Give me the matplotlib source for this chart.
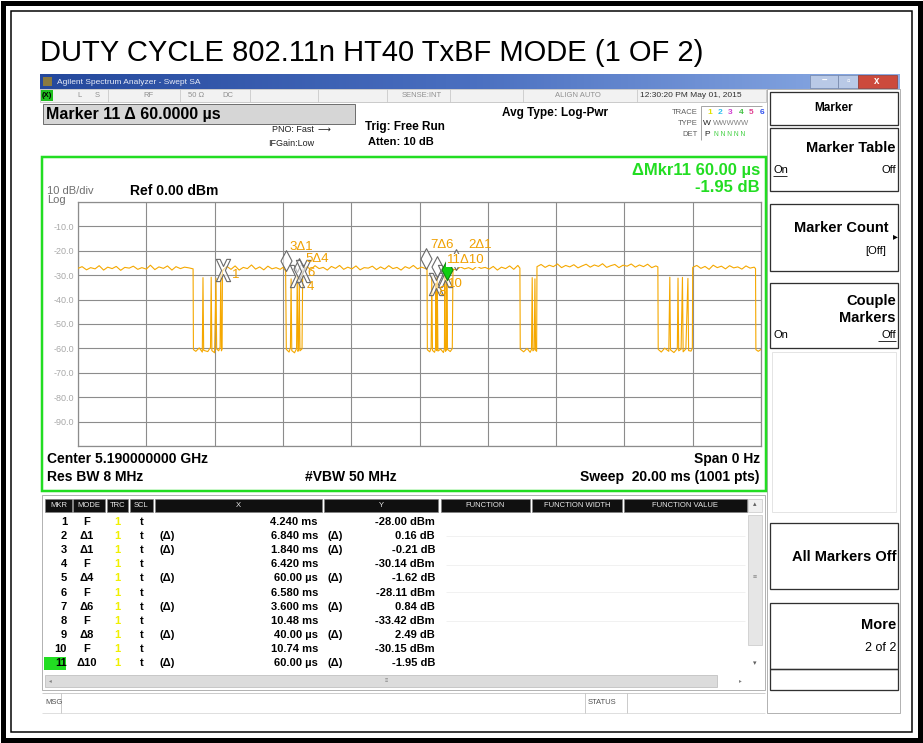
import numpy as np
import matplotlib
matplotlib.use('Agg')
import matplotlib.pyplot as plt
from matplotlib.patches import Rectangle
from matplotlib.path import Path
from matplotlib.colors import LinearSegmentedColormap

plt.rcParams['font.family'] = ['Liberation Sans', 'DejaVu Sans']

# zero-span trace, 20 ms sweep, vertices (ms, dBm)
trace_pts = [
    (0.00, -27.2), (0.12, -26.5), (0.25, -27.8), (0.37, -26.9), (0.50, -27.4), (0.62, -26.1),
    (0.75, -27.9), (0.87, -26.7), (1.00, -27.3), (1.12, -26.4), (1.25, -28.0), (1.37, -26.8),
    (1.50, -27.1), (1.62, -26.3), (1.75, -27.6), (1.87, -26.9), (2.00, -27.5), (2.12, -25.9),
    (2.25, -27.7), (2.37, -26.6), (2.50, -27.2), (2.62, -26.2), (2.75, -27.9), (2.87, -26.5),
    (3.00, -27.3), (3.12, -26.7), (3.25, -27.0), (3.37, -27.4),
    (3.38, -60.5), (3.45, -61.2), (3.55, -59.8), (3.64, -61.5), (3.66, -31.0), (3.68, -60.8),
    (3.80, -61.3), (3.88, -59.6), (3.90, -30.8), (3.92, -60.9), (4.00, -61.8), (4.04, -31.2),
    (4.06, -60.2), (4.12, -61.0), (4.16, -59.5), (4.18, -29.5), (4.20, -61.0), (4.22, -60.3),
    (4.23, -28.6),
    (4.24, -28.0), (4.36, -26.4), (4.48, -27.6), (4.60, -26.2), (4.72, -27.9), (4.84, -26.8),
    (4.96, -27.3), (5.08, -25.8), (5.20, -27.5), (5.32, -26.6), (5.44, -27.8), (5.56, -26.3),
    (5.68, -27.4), (5.80, -26.9), (5.92, -27.6), (6.00, -26.8), (6.08, -28.2),
    (6.10, -60.4), (6.18, -61.5), (6.22, -59.7), (6.24, -31.5), (6.26, -60.9), (6.34, -61.8),
    (6.40, -60.1), (6.42, -30.1), (6.44, -61.2), (6.46, -60.6), (6.48, -31.8), (6.50, -61.0),
    (6.56, -60.2), (6.58, -28.1),
    (6.70, -26.5), (6.82, -27.7), (6.94, -26.1), (7.06, -27.3), (7.18, -26.8), (7.30, -27.9),
    (7.42, -26.4), (7.54, -27.2), (7.66, -26.0), (7.78, -27.6), (7.90, -26.7), (8.02, -27.4),
    (8.14, -26.2), (8.26, -27.8), (8.38, -26.9), (8.50, -27.1), (8.62, -26.3), (8.74, -27.7),
    (8.86, -26.6), (8.98, -27.5), (9.10, -26.1), (9.22, -27.3), (9.34, -26.8), (9.46, -27.9),
    (9.58, -26.5), (9.70, -27.2), (9.82, -26.0), (9.94, -27.4), (10.06, -26.7), (10.18, -27.3),
    (10.22, -27.0),
    (10.23, -60.6), (10.30, -61.4), (10.34, -59.9), (10.36, -30.5), (10.38, -60.8), (10.44, -61.6),
    (10.47, -60.2), (10.48, -33.4), (10.50, -60.9), (10.51, -60.5), (10.52, -30.9), (10.54, -61.1),
    (10.62, -60.3), (10.70, -61.7), (10.73, -60.0), (10.74, -30.2), (10.76, -61.2), (10.79, -60.7),
    (10.80, -32.1), (10.82, -60.4), (10.90, -61.3), (10.96, -60.1), (10.98, -27.5),
    (11.08, -27.8), (11.20, -26.6), (11.32, -27.4), (11.44, -26.9), (11.56, -27.7), (11.68, -26.3),
    (11.80, -27.2), (11.92, -26.8), (12.04, -27.5), (12.16, -26.4), (12.28, -27.9), (12.40, -26.7),
    (12.52, -27.3), (12.64, -26.2), (12.76, -27.6), (12.88, -26.0), (12.94, -27.1),
    (12.95, -60.3), (13.05, -61.4), (13.15, -60.0), (13.24, -61.6), (13.28, -60.4), (13.30, -31.0),
    (13.32, -61.0), (13.36, -60.5), (13.38, -31.5), (13.40, -60.8), (13.43, -61.2), (13.44, -26.5),
    (13.56, -25.6), (13.68, -26.8), (13.80, -25.9), (13.92, -26.5), (14.04, -25.4), (14.16, -26.9),
    (14.28, -26.0), (14.40, -26.6), (14.52, -25.7), (14.64, -27.0), (14.76, -26.2), (14.88, -25.5),
    (15.00, -26.7), (15.12, -25.8), (15.24, -26.4), (15.36, -25.3), (15.48, -26.8), (15.60, -26.1),
    (15.72, -25.6), (15.84, -26.9), (15.96, -25.9), (16.08, -26.3), (16.20, -25.4), (16.32, -26.7),
    (16.44, -25.8), (16.56, -26.5), (16.68, -25.5), (16.80, -26.9), (16.92, -26.2), (16.98, -26.6),
    (16.99, -60.4), (17.08, -61.5), (17.18, -59.9), (17.30, -61.2), (17.33, -30.8), (17.35, -60.6),
    (17.45, -61.7), (17.55, -60.1), (17.57, -31.2), (17.59, -61.0), (17.66, -60.3), (17.70, -30.9),
    (17.72, -61.4), (17.80, -60.2), (17.86, -31.3), (17.88, -60.9), (17.95, -61.1), (17.99, -60.0),
    (18.00, -26.8),
    (18.12, -26.0), (18.24, -27.2), (18.36, -26.4), (18.48, -27.6), (18.60, -25.9), (18.72, -26.9),
    (18.84, -26.3), (18.96, -27.4), (19.08, -26.1), (19.20, -27.0), (19.32, -26.6), (19.44, -27.5),
    (19.56, -26.2), (19.68, -27.1), (19.80, -26.7), (19.84, -27.3),
    (19.85, -60.5), (19.92, -61.2), (20.00, -60.4),
]

# marker table
mkr_num = ['1', '2', '3', '4', '5', '6', '7', '8', '9', '10', '11']
mkr_mode = ['F', 'Δ1', 'Δ1', 'F', 'Δ4', 'F', 'Δ6', 'F', 'Δ8', 'F', 'Δ10']
mkr_ref = [None, 0, 0, None, 3, None, 5, None, 7, None, 9]
mkr_x_ms = [4.24, 6.84, 1.84, 6.42, 0.06, 6.58, 3.60, 10.48, 0.04, 10.74, 0.06]
mkr_y_db = [-28.00, 0.16, -0.21, -30.14, -1.62, -28.11, 0.84, -33.42, 2.49, -30.15, -1.95]
mkr_x_txt = ['4.240 ms', '6.840 ms', '1.840 ms', '6.420 ms', '60.00 µs', '6.580 ms',
             '3.600 ms', '10.48 ms', '40.00 µs', '10.74 ms', '60.00 µs']
mkr_y_txt = ['-28.00 dBm', '0.16 dB', '-0.21 dB', '-30.14 dBm', '-1.62 dB', '-28.11 dBm',
             '0.84 dB', '-33.42 dBm', '2.49 dB', '-30.15 dBm', '-1.95 dB']
mkr_label = ['1', '2Δ1', '3Δ1', '4', '5Δ4', '6', '7Δ6', '8', '', '10', '11Δ10']

# absolute marker positions from the table
mkr_t, mkr_l = [], []
for i in range(len(mkr_num)):
    if mkr_ref[i] is None:
        mkr_t.append(mkr_x_ms[i])
        mkr_l.append(mkr_y_db[i])
    else:
        mkr_t.append(mkr_t[mkr_ref[i]] + mkr_x_ms[i])
        mkr_l.append(mkr_l[mkr_ref[i]] + mkr_y_db[i])

W, H = 923, 743
fig = plt.figure(figsize=(W / 100, H / 100), dpi=100)
ui = fig.add_axes([0, 0, 1, 1])
ui.axis('off')

PX = 0.72  # points per pixel


def box(x0, y0, x1, y1, fc='none', ec='black', lw=1, z=1):
    ui.add_patch(Rectangle((x0, y0), x1 - x0, y1 - y0, facecolor=fc, edgecolor=ec,
                           linewidth=lw * PX, zorder=z))


def txt(x, y, s, size=8, ha='left', va='center', color='black', weight='normal', **kw):
    ui.text(x, y, s, fontsize=size, ha=ha, va=va, color=color, fontweight=weight, **kw)


def hline(x0, x1, y, color='black', lw=1, z=2):
    ui.plot([x0, x1], [y, y], color=color, lw=lw * PX, zorder=z, solid_capstyle='butt')


def vline(x, y0, y1, color='black', lw=1, z=2):
    ui.plot([x, x], [y0, y1], color=color, lw=lw * PX, zorder=z, solid_capstyle='butt')


# page border (double line)
box(3, 3, 920, 740, lw=5)
box(11, 11, 912, 732, lw=1.5)

txt(40, 53, 'DUTY CYCLE 802.11n HT40 TxBF MODE (1 OF 2)', size=21)

# window title bar
grad = LinearSegmentedColormap.from_list('tb', ['#24489c', '#4a6fc0', '#8eaee6'])
ui.imshow(np.linspace(0, 1, 256).reshape(1, -1), cmap=grad, aspect='auto',
          extent=(40, 900, 89, 74), zorder=1)
box(43, 77, 52, 86, fc='#8a7a40', ec='none', z=2)
ui.text(57, 82, 'Agilent Spectrum Analyzer - Swept SA', fontsize=6, color='#e8ecf8',
        va='center', zorder=3)
box(810, 75, 838, 88, fc='#b9c9e6', ec='#7080a0', lw=0.6, z=2)
box(838, 75, 858, 88, fc='#b9c9e6', ec='#7080a0', lw=0.6, z=2)
box(858, 75, 897, 88, fc='#cc4a3c', ec='#903020', lw=0.6, z=2)
txt(824, 81, '–', size=7, ha='center', color='white', weight='bold')
txt(848, 81, '▫', size=7, ha='center', color='white')
txt(877, 81, 'x', size=7, ha='center', color='white', weight='bold')

# status line
box(40, 89, 766, 102, fc='#f2f2f2', ec='#c0c0c0', lw=0.8)
box(41, 90, 53, 101, fc='#20c020', ec='none', z=2)
txt(47, 95.5, '(X)', size=5.5, ha='center', weight='bold')
for sx in [108, 180, 250, 318, 387, 450, 523, 637]:
    vline(sx, 89, 102, color='#c8c8c8', lw=0.8)
for sx, s in [(77, 'L'), (95, 'S'), (143, 'RF'), (188, '50 Ω'), (222, 'DC'),
              (402, 'SENSE:INT'), (555, 'ALIGN AUTO')]:
    txt(sx, 95.5, s, size=5.5, color='#909090')
txt(640, 95.5, '12:30:20 PM May 01, 2015', size=6, color='#303030')

# marker readout and settings
box(43, 104, 355, 124, fc='#d6d6d6', ec='#707070', lw=1)
txt(46, 114.5, 'Marker 11 Δ 60.0000 µs', size=11.5, weight='bold')
txt(272, 130, 'PNO: Fast', size=6.5, color='#202020')
txt(318, 129, '⟶', size=6.5, color='#202020')
txt(268, 143, 'IFGain:Low', size=6.5, color='#202020')
txt(365, 127, 'Trig: Free Run', size=8.5, weight='bold')
txt(368, 142, 'Atten: 10 dB', size=8, weight='bold')
txt(502, 113, 'Avg Type: Log-Pwr', size=8.5, weight='bold')
txt(698, 112, 'TRACE', size=5.5, ha='right', color='#606060')
txt(698, 123.5, 'TYPE', size=5.5, ha='right', color='#606060')
txt(698, 134, 'DET', size=5.5, ha='right', color='#606060')
vline(701, 106, 140, color='#909090', lw=0.8)
hline(701, 762, 106, color='#909090', lw=0.8)
for k, c in enumerate(['#e0e000', '#30c0f0', '#d040d0', '#40c040', '#e04090', '#3050f0']):
    txt(707 + k * 10.5, 112, str(k + 1), size=6, color=c, weight='bold')
txt(703, 123.5, 'W', size=6, color='#202020')
txt(713, 123.5, 'WWWWW', size=5.5, color='#808080')
txt(704, 134, 'P', size=6, color='#202020')
txt(714, 134, 'N N N N N', size=4.8, color='#40d040')

# right soft-key panel
box(767, 89, 900, 713, ec='#a0a0a0', lw=0.8)
box(770, 92, 898, 125, ec='#303030', lw=1.3)
txt(834, 108, 'Marker', size=8.5, ha='center', weight='bold')
box(770, 128, 898, 191, ec='#303030', lw=1.3)
txt(896, 148, 'Marker Table', size=10.5, ha='right', weight='bold')
txt(773, 170, 'On', size=8)
hline(773, 787, 176, lw=0.8)
txt(896, 170, 'Off', size=8, ha='right')
box(770, 204, 898, 271, ec='#303030', lw=1.3)
txt(888, 228, 'Marker Count', size=10.5, ha='right', weight='bold')
txt(898, 236, '▸', size=7, ha='right')
txt(886, 251, '[Off]', size=8, ha='right')
box(770, 283, 898, 348, ec='#303030', lw=1.3)
txt(896, 301, 'Couple', size=10.5, ha='right', weight='bold')
txt(896, 318, 'Markers', size=10.5, ha='right', weight='bold')
txt(773, 335, 'On', size=8)
txt(896, 335, 'Off', size=8, ha='right')
hline(878, 896, 341, lw=0.8)
box(772, 352, 896, 512, ec='#e4e4e4', lw=1)
box(770, 523, 898, 589, ec='#303030', lw=1.3)
txt(896, 557, 'All Markers Off', size=10.5, ha='right', weight='bold')
box(770, 603, 898, 669, ec='#303030', lw=1.3)
txt(896, 625, 'More', size=10.5, ha='right', weight='bold')
txt(896, 648, '2 of 2', size=9, ha='right')
box(770, 669, 898, 690, ec='#303030', lw=1.3)

# graticule frame
box(42, 157, 766, 491, ec='#22dd22', lw=2.5, z=3)
txt(47, 191, '10 dB/div', size=8, color='#707070')
txt(47, 200, 'Log', size=8, color='#707070')
txt(130, 191, 'Ref 0.00 dBm', size=10, weight='bold')
txt(760, 171, 'ΔMkr11 60.00 µs', size=12, ha='right', weight='bold', color='#22dd22')
txt(760, 187, '-1.95 dB', size=12, ha='right', weight='bold', color='#22dd22')
txt(47, 459, 'Center 5.190000000 GHz', size=10, weight='bold')
txt(760, 459, 'Span 0 Hz', size=10, ha='right', weight='bold')
txt(47, 477, 'Res BW 8 MHz', size=10, weight='bold')
txt(305, 477, '#VBW 50 MHz', size=10, weight='bold')
txt(760, 477, 'Sweep  20.00 ms (1001 pts)', size=10, ha='right', weight='bold')

# marker table
box(42, 495, 765, 690, ec='#a0a0a0', lw=0.8)
hdr = [(45, 72, 'MKR'), (73, 105, 'MODE'), (107, 128, 'TRC'), (130, 153, 'SCL'),
       (155, 322, 'X'), (324, 438, 'Y'), (441, 530, 'FUNCTION'),
       (532, 622, 'FUNCTION WIDTH'), (624, 747, 'FUNCTION VALUE')]
for x0, x1, s in hdr:
    box(x0, 499, x1, 512, fc='#101010', ec='#808080', lw=0.6)
    txt((x0 + x1) / 2, 505.5, s, size=5.5, ha='center', color='#e8e8e8')
box(748, 499, 762, 512, fc='#f0f0f0', ec='#c0c0c0', lw=0.6)
txt(755, 505, '▴', size=5, ha='center', color='#606060')
box(748, 515, 762, 645, fc='#e6e6e6', ec='#c0c0c0', lw=0.6)
txt(755, 578, '≡', size=5, ha='center', color='#808080')
txt(755, 664, '▾', size=5, ha='center', color='#606060')
box(45, 675, 717, 687, fc='#dcdcdc', ec='#b0b0b0', lw=0.6)
txt(50, 681, '◂', size=4, ha='center', color='#808080')
txt(386, 681, '≡', size=4, ha='center', color='#808080')
txt(740, 681, '▸', size=4, ha='center', color='#808080')
for fy in [536, 565, 592, 621]:
    hline(446, 745, fy, color='#eeeeee', lw=0.8)

row_y0, row_dy = 522, 14.1
for i in range(len(mkr_num)):
    y = row_y0 + i * row_dy
    if i == len(mkr_num) - 1:
        box(44, y - 6.5, 66, y + 7, fc='#22dd22', ec='none', z=1)
    txt(67, y, mkr_num[i], size=8, ha='right', weight='bold')
    txt(87, y, mkr_mode[i], size=8, ha='center', weight='bold')
    txt(117, y, '1', size=8, ha='center', weight='bold', color='#f0f000')
    txt(142, y, 't', size=8, ha='center', weight='bold')
    if mkr_ref[i] is not None:
        txt(167, y, '(Δ)', size=8, ha='center', weight='bold')
        txt(335, y, '(Δ)', size=8, ha='center', weight='bold')
    txt(318, y, mkr_x_txt[i], size=8, ha='right', weight='bold')
    txt(435, y, mkr_y_txt[i], size=8, ha='right', weight='bold')

# message line
hline(42, 765, 693, color='#c0c0c0', lw=0.8)
hline(42, 765, 713, color='#d8d8d8', lw=0.8)
vline(61, 693, 713, color='#c0c0c0', lw=0.8)
vline(585, 693, 713, color='#c0c0c0', lw=0.8)
vline(627, 693, 713, color='#c0c0c0', lw=0.8)
txt(45, 703, 'MSG', size=5.5, color='#505050')
txt(588, 703, 'STATUS', size=5.5, color='#505050')

ui.set_xlim(0, W)
ui.set_ylim(H, 0)

# trace graticule
gx0, gy0, gx1, gy1 = 78, 202, 761, 446
ax = fig.add_axes([gx0 / W, 1 - gy1 / H, (gx1 - gx0) / W, (gy1 - gy0) / H])
ax.set_xlim(0, 20)
ax.set_ylim(-100, 0)
ax.set_xticks(np.arange(0, 21, 2))
ax.set_yticks(np.arange(-100, 1, 10))
ax.set_xticklabels([])
ax.set_yticklabels(['' if v in (-100, 0) else '%.1f' % v for v in np.arange(-100, 1, 10)])
ax.tick_params(length=0, colors='#a8a8a8', labelsize=6.5, pad=3)
ax.grid(True, color='#8c8c8c', lw=0.8)
for sp in ax.spines.values():
    sp.set_color('#8c8c8c')
    sp.set_linewidth(0.9)

tr = np.array(trace_pts)
ax.plot(tr[:, 0], tr[:, 1], color='#f5a800', lw=0.8, zorder=3)


def x_path(w=0.64, h=1.0, a=0.17):
    c = h * a / (w - a)
    v = [(-w, h), (-w + 2 * a, h), (0, c), (w - 2 * a, h), (w, h), (a, 0), (w, -h),
         (w - 2 * a, -h), (0, -c), (-w + 2 * a, -h), (-w, -h), (-a, 0), (-w, h)]
    return Path(v, [Path.MOVETO] + [Path.LINETO] * 11 + [Path.CLOSEPOLY])


diamond = Path([(0, 0), (0.53, 1), (0, 2), (-0.53, 1), (0, 0)],
               [Path.MOVETO, Path.LINETO, Path.LINETO, Path.LINETO, Path.CLOSEPOLY])
xmark = x_path()

lbl_off = {'1': (9, -5), '2Δ1': (12, 25), '3Δ1': (4, 24), '4': (9, -11), '5Δ4': (6, 20),
           '6': (5, -2), '7Δ6': (5, 24), '8': (2, -8), '10': (3, -8), '11Δ10': (0, 20)}

for i in range(len(mkr_num)):
    t, l = mkr_t[i], mkr_l[i]
    if mkr_ref[i] is None:
        ax.plot(t, l, marker=xmark, ms=16, mfc=(1, 1, 1, 0.55), mec='#6a6a6a', mew=0.8,
                ls='none', zorder=4)
    elif i == len(mkr_num) - 1:
        ax.plot(t, l, marker=diamond, ms=30, mfc='#10d010', mec='#108010', mew=0.8,
                ls='none', zorder=6)
    else:
        ax.plot(t, l, marker=diamond, ms=30, mfc=(1, 1, 1, 0.55), mec='#6a6a6a', mew=0.8,
                ls='none', zorder=4)

for i in range(len(mkr_num)):
    s = mkr_label[i]
    if not s:
        continue
    kw = {}
    if i == len(mkr_num) - 1:
        kw['bbox'] = dict(fc='white', ec='none', pad=0.6)
    ax.annotate(s, (mkr_t[i], mkr_l[i]), xytext=lbl_off[s], textcoords='offset pixels',
                color='#f0a000', fontsize=9.5, ha='left', va='center', zorder=7,
                annotation_clip=False, **kw)

fig.savefig('out.png', dpi=100)
